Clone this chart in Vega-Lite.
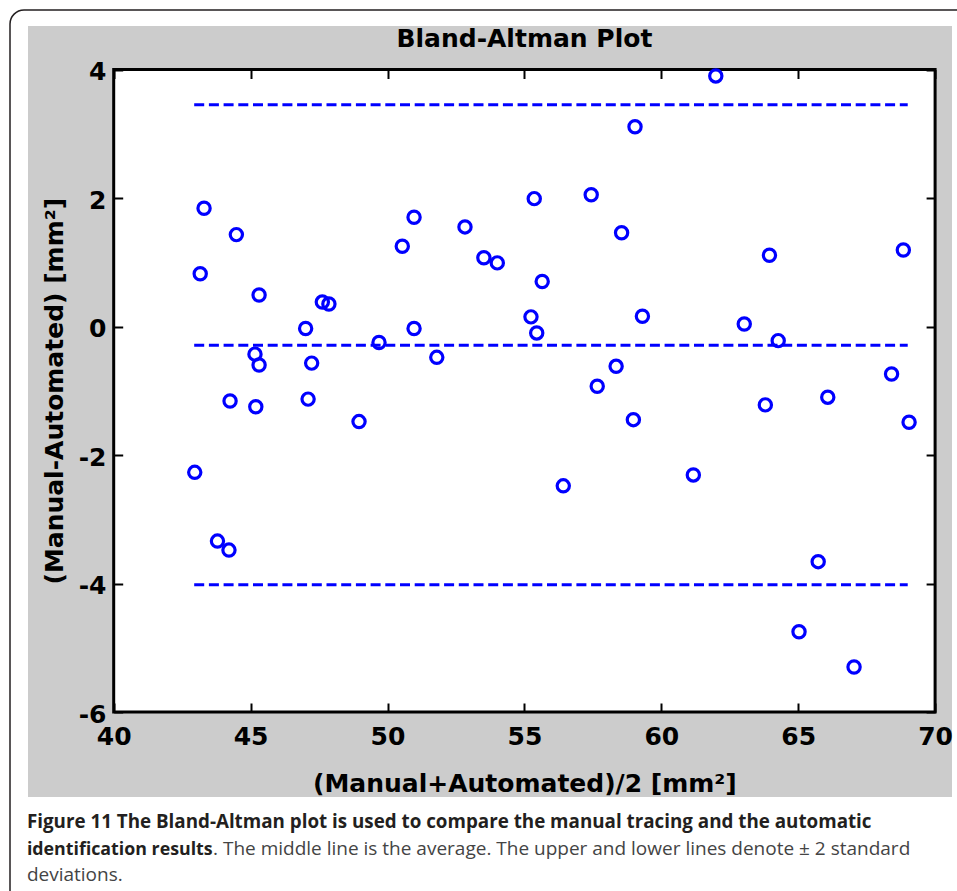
{
  "$schema": "https://vega.github.io/schema/vega-lite/v6.json",
  "width": 924,
  "height": 771,
  "autosize": {"type": "none"},
  "padding": {"left": 28, "top": 26, "right": 5, "bottom": 94},
  "background": "white",
  "view": {"fill": "#cccccc", "stroke": null},
  "datasets": {
    "points": [
      {"mean": 43.30, "diff": 1.84}, {"mean": 44.48, "diff": 1.43}, {"mean": 43.16, "diff": 0.82},
      {"mean": 45.31, "diff": 0.49}, {"mean": 47.62, "diff": 0.38}, {"mean": 47.86, "diff": 0.35},
      {"mean": 47.01, "diff": -0.03}, {"mean": 49.69, "diff": -0.25}, {"mean": 45.16, "diff": -0.43},
      {"mean": 45.31, "diff": -0.60}, {"mean": 47.23, "diff": -0.57},
      {"mean": 59.04, "diff": 3.11}, {"mean": 55.36, "diff": 1.99}, {"mean": 57.44, "diff": 2.05},
      {"mean": 50.97, "diff": 1.70}, {"mean": 52.83, "diff": 1.55}, {"mean": 50.54, "diff": 1.25},
      {"mean": 58.55, "diff": 1.46}, {"mean": 53.52, "diff": 1.07}, {"mean": 54.01, "diff": 0.99},
      {"mean": 55.65, "diff": 0.70}, {"mean": 55.24, "diff": 0.15}, {"mean": 55.45, "diff": -0.10},
      {"mean": 59.31, "diff": 0.16}, {"mean": 50.97, "diff": -0.03}, {"mean": 51.80, "diff": -0.48},
      {"mean": 58.35, "diff": -0.62},
      {"mean": 61.99, "diff": 3.90}, {"mean": 63.95, "diff": 1.11}, {"mean": 68.84, "diff": 1.19},
      {"mean": 63.03, "diff": 0.04}, {"mean": 64.27, "diff": -0.22}, {"mean": 68.41, "diff": -0.74},
      {"mean": 44.25, "diff": -1.16}, {"mean": 45.19, "diff": -1.25}, {"mean": 47.10, "diff": -1.13},
      {"mean": 48.96, "diff": -1.48}, {"mean": 42.96, "diff": -2.27}, {"mean": 43.79, "diff": -3.34},
      {"mean": 44.21, "diff": -3.48}, {"mean": 57.66, "diff": -0.93}, {"mean": 58.98, "diff": -1.45},
      {"mean": 56.42, "diff": -2.48}, {"mean": 63.80, "diff": -1.22}, {"mean": 66.08, "diff": -1.10},
      {"mean": 69.05, "diff": -1.49}, {"mean": 61.17, "diff": -2.31}, {"mean": 65.73, "diff": -3.66},
      {"mean": 65.03, "diff": -4.75}, {"mean": 67.04, "diff": -5.30}
    ],
    "limits": [
      {"line": "upper (+2 SD)", "diff": 3.45, "from": 42.94, "to": 69.0},
      {"line": "mean", "diff": -0.29, "from": 42.94, "to": 69.0},
      {"line": "lower (-2 SD)", "diff": -4.02, "from": 42.94, "to": 69.0}
    ],
    "caption": [
      {"line": 1, "part": "bold", "text": "Figure 11 The Bland-Altman plot is used to compare the manual tracing and the automatic"},
      {"line": 2, "part": "bold", "text": "identification results"},
      {"line": 2, "part": "regular", "text": ". The middle line is the average. The upper and lower lines denote ± 2 standard"},
      {"line": 3, "part": "regular", "text": "deviations."}
    ]
  },
  "layer": [
    {
      "data": {"values": [{}]},
      "mark": {"type": "rect", "filled": false, "stroke": "#231f20", "strokeWidth": 1.5, "cornerRadius": 14},
      "encoding": {
        "x": {"datum": 36.2126, "type": "quantitative", "axis": null},
        "x2": {"datum": 72.4},
        "y": {"datum": 4.926, "type": "quantitative", "axis": null},
        "y2": {"datum": -9.7}
      }
    },
    {
      "data": {"values": [{}]},
      "mark": {"type": "rect", "fill": "white", "stroke": "black", "strokeWidth": 3},
      "encoding": {
        "x": {"datum": 40, "type": "quantitative", "axis": null},
        "x2": {"datum": 70},
        "y": {"datum": -6, "type": "quantitative", "axis": null},
        "y2": {"datum": 4}
      }
    },
    {
      "data": {"values": [{"title": "Bland-Altman Plot"}]},
      "mark": {"type": "text", "align": "center", "baseline": "alphabetic", "font": "DejaVu Sans", "fontSize": 25, "fontWeight": "bold", "color": "black"},
      "encoding": {
        "x": {"datum": 55, "type": "quantitative", "axis": null},
        "y": {"datum": 4.355, "type": "quantitative", "axis": null},
        "text": {"field": "title"}
      }
    },
    {
      "data": {"name": "limits"},
      "mark": {"type": "rule", "stroke": "#0000ff", "strokeWidth": 3, "strokeDash": [10, 4.7]},
      "encoding": {
        "x": {
          "field": "from", "type": "quantitative",
          "axis": {"orient": "top", "offset": -43.5, "values": [40, 45, 50, 55, 60, 65, 70], "labels": false, "domain": false, "grid": false, "ticks": true, "tickSize": -9, "tickWidth": 2, "tickColor": "black", "title": null, "zindex": 1}
        },
        "x2": {"field": "to"},
        "y": {
          "field": "diff", "type": "quantitative",
          "axis": {"orient": "right", "offset": -16.9, "values": [-6, -4, -2, 0, 2, 4], "labels": false, "domain": false, "grid": false, "ticks": true, "tickSize": -9, "tickWidth": 2, "tickColor": "black", "title": null, "zindex": 1}
        }
      }
    },
    {
      "data": {"name": "points"},
      "mark": {"type": "point", "shape": "circle", "filled": false, "stroke": "#0000ff", "strokeWidth": 3.2, "size": 150, "opacity": 1},
      "encoding": {
        "x": {
          "field": "mean", "type": "quantitative",
          "scale": {"domain": [40, 70], "range": [85.7, 907.1], "nice": false, "zero": false},
          "axis": {
            "orient": "bottom", "offset": -85, "values": [40, 45, 50, 55, 60, 65, 70],
            "domain": false, "grid": false, "ticks": true, "tickSize": -9, "tickWidth": 2, "tickColor": "black",
            "labelPadding": 21.5, "labelFont": "DejaVu Sans", "labelFontWeight": "bold", "labelFontSize": 25,
            "labelColor": "black", "labelFlush": false, "labelOverlap": false, "labelBound": false,
            "labelExpr": "'' + datum.value",
            "title": "(Manual+Automated)/2 [mm²]", "titleFont": "DejaVu Sans", "titleFontSize": 25,
            "titleFontWeight": "bold", "titleColor": "black", "titlePadding": 22, "zindex": 1
          }
        },
        "y": {
          "field": "diff", "type": "quantitative",
          "scale": {"domain": [-6, 4], "range": [686, 43.5], "nice": false, "zero": false},
          "axis": {
            "orient": "left", "offset": -85.7, "values": [-6, -4, -2, 0, 2, 4],
            "domain": false, "grid": false, "ticks": true, "tickSize": -9, "tickWidth": 2, "tickColor": "black",
            "labelPadding": 16.7, "labelOffset": 2, "labelFont": "DejaVu Sans", "labelFontWeight": "bold", "labelFontSize": 25,
            "labelColor": "black", "labelFlush": false, "labelOverlap": false, "labelBound": false,
            "labelExpr": "'' + datum.value",
            "title": "(Manual-Automated) [mm²]", "titleFont": "DejaVu Sans", "titleFontSize": 25,
            "titleFontWeight": "bold", "titleColor": "black", "titlePadding": 11, "zindex": 1
          }
        }
      }
    },
    {
      "data": {"name": "caption"},
      "transform": [{"filter": "datum.line == 1"}],
      "mark": {"type": "text", "align": "left", "baseline": "alphabetic", "font": "Open Sans", "fontSize": 18.8, "fontWeight": "bold", "color": "#231f20"},
      "encoding": {
        "x": {"datum": 36.83, "type": "quantitative", "axis": null},
        "y": {"datum": -7.805, "type": "quantitative", "axis": null},
        "text": {"field": "text"}
      }
    },
    {
      "data": {"name": "caption"},
      "transform": [{"filter": "datum.line == 2 && datum.part == 'bold'"}],
      "mark": {"type": "text", "align": "left", "baseline": "alphabetic", "font": "Open Sans", "fontSize": 17.8, "fontWeight": "bold", "color": "#231f20"},
      "encoding": {
        "x": {"datum": 36.83, "type": "quantitative", "axis": null},
        "y": {"datum": -8.226, "type": "quantitative", "axis": null},
        "text": {"field": "text"}
      }
    },
    {
      "data": {"name": "caption"},
      "transform": [{"filter": "datum.line == 2 && datum.part == 'regular'"}],
      "mark": {"type": "text", "align": "left", "baseline": "alphabetic", "font": "Open Sans", "fontSize": 19, "fontWeight": "normal", "color": "#444444"},
      "encoding": {
        "x": {"datum": 43.627, "type": "quantitative", "axis": null},
        "y": {"datum": -8.226, "type": "quantitative", "axis": null},
        "text": {"field": "text"}
      }
    },
    {
      "data": {"name": "caption"},
      "transform": [{"filter": "datum.line == 3"}],
      "mark": {"type": "text", "align": "left", "baseline": "alphabetic", "font": "Open Sans", "fontSize": 19, "fontWeight": "normal", "color": "#444444"},
      "encoding": {
        "x": {"datum": 36.83, "type": "quantitative", "axis": null},
        "y": {"datum": -8.630, "type": "quantitative", "axis": null},
        "text": {"field": "text"}
      }
    }
  ],
  "resolve": {"axis": {"x": "independent", "y": "independent"}}
}
